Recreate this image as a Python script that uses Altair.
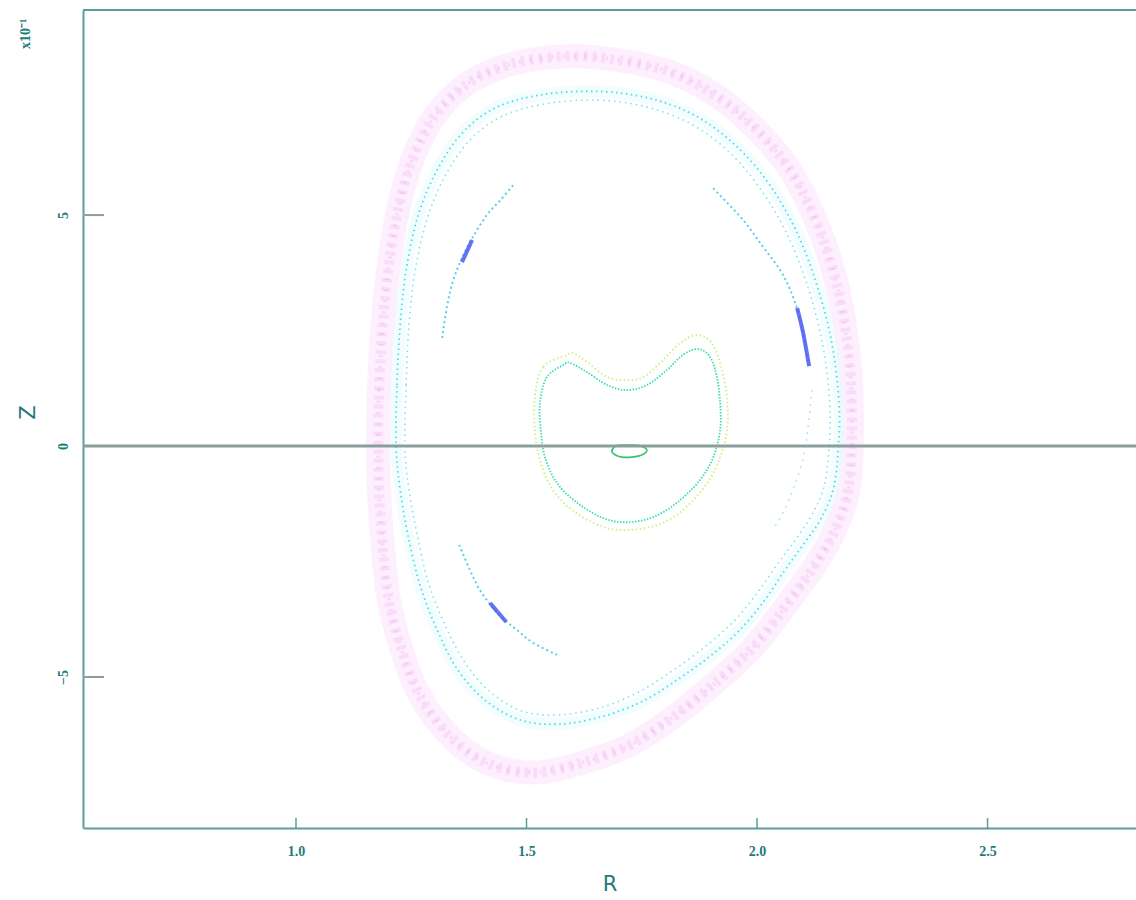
import altair as alt
import pandas as pd

# ---------------- data (R, Z in displayed units; Z is x10^-1) ----------------
R_TICKS = [1.0, 1.5, 2.0, 2.5]
Z_TICKS = [-5, 0, 5]

# outer fuzzy magenta band (closed)
MAG_R = [1.178, 1.180, 1.187, 1.200, 1.219, 1.252, 1.302, 1.377, 1.475, 1.594,
         1.703, 1.811, 1.909, 1.996, 2.072, 2.132, 2.176, 2.200, 2.206, 2.198,
         2.169, 2.126, 2.072, 1.996, 1.909, 1.818, 1.725, 1.627, 1.529, 1.443,
         1.373, 1.312, 1.262, 1.226, 1.200, 1.187, 1.180]
MAG_Z = [0.00, 1.21, 2.51, 3.81, 5.00, 6.19, 7.16, 7.88, 8.29, 8.44,
         8.35, 8.10, 7.60, 6.88, 5.97, 4.78, 3.38, 1.86, 0.35, -0.95,
         -1.82, -2.58, -3.33, -4.31, -5.13, -5.87, -6.47, -6.84, -7.06, -6.97,
         -6.62, -6.04, -5.28, -4.31, -3.23, -2.03, -0.95]

# cyan band, outer line (closed)
CYO_R = [1.217, 1.219, 1.226, 1.239, 1.265, 1.306, 1.360, 1.432, 1.529, 1.649,
         1.757, 1.855, 1.941, 2.017, 2.082, 2.130, 2.163, 2.178, 2.176, 2.165,
         2.137, 2.100, 2.061, 2.017, 1.963, 1.902, 1.833, 1.757, 1.670, 1.573,
         1.486, 1.410, 1.351, 1.306, 1.269, 1.243, 1.226]
CYO_Z = [0.00, 1.32, 2.62, 3.81, 5.00, 5.97, 6.77, 7.32, 7.60, 7.68,
         7.55, 7.21, 6.62, 5.80, 4.72, 3.48, 2.19, 0.89, -0.09, -0.95,
         -1.60, -2.14, -2.68, -3.33, -3.98, -4.52, -5.02, -5.50, -5.84, -6.02,
         -5.93, -5.50, -4.85, -3.98, -3.01, -1.93, -0.95]

# cyan band, inner line (closed)
CYI_R = [1.236, 1.239, 1.245, 1.258, 1.284, 1.323, 1.375, 1.443, 1.536, 1.649,
         1.753, 1.846, 1.928, 2.000, 2.063, 2.111, 2.143, 2.158, 2.156, 2.145,
         2.119, 2.085, 2.046, 2.002, 1.950, 1.889, 1.822, 1.748, 1.666, 1.573,
         1.490, 1.421, 1.367, 1.323, 1.286, 1.262, 1.245]
CYI_Z = [0.00, 1.32, 2.62, 3.77, 4.91, 5.84, 6.60, 7.12, 7.40, 7.49,
         7.36, 7.03, 6.47, 5.67, 4.63, 3.42, 2.16, 0.89, -0.09, -0.89,
         -1.49, -2.01, -2.53, -3.16, -3.79, -4.33, -4.83, -5.30, -5.65, -5.82,
         -5.74, -5.32, -4.70, -3.87, -2.92, -1.88, -0.95]

# island chain arcs (open)
ARC1_R = [1.317, 1.328, 1.341, 1.360, 1.382, 1.414, 1.443, 1.473]
ARC1_Z = [2.34, 3.05, 3.59, 4.07, 4.50, 5.00, 5.32, 5.67]
ARC2_R = [1.905, 1.970, 2.013, 2.050, 2.072, 2.089, 2.100, 2.111]
ARC2_Z = [5.58, 4.89, 4.31, 3.81, 3.38, 2.90, 2.45, 1.75]
ARC3_R = [1.354, 1.377, 1.399, 1.425, 1.447, 1.479, 1.514, 1.566]
ARC3_Z = [-2.14, -2.68, -3.12, -3.48, -3.72, -3.98, -4.26, -4.52]
ARC4_R = [2.119, 2.111, 2.102, 2.082, 2.059, 2.037]
ARC4_Z = [1.21, 0.45, -0.19, -0.84, -1.39, -1.77]

# dense (dark blue) parts of the islands
DARK1_R = [1.360, 1.371, 1.382]
DARK1_Z = [3.98, 4.22, 4.46]
DARK2_R = [2.087, 2.100, 2.113]
DARK2_Z = [2.99, 2.45, 1.73]
DARK3_R = [1.421, 1.438, 1.456]
DARK3_Z = [-3.40, -3.60, -3.81]

# kidney-shaped surfaces (closed)
KIN_R = [1.579, 1.544, 1.529, 1.531, 1.540, 1.566, 1.610, 1.666, 1.718, 1.774,
         1.826, 1.876, 1.905, 1.920, 1.920, 1.913, 1.898, 1.872, 1.839, 1.805,
         1.761, 1.718, 1.675, 1.631, 1.594]
KIN_Z = [1.75, 1.49, 0.93, 0.35, -0.24, -0.80, -1.23, -1.56, -1.65, -1.54,
         -1.23, -0.74, -0.24, 0.35, 0.93, 1.49, 1.93, 2.10, 1.97, 1.65,
         1.32, 1.21, 1.32, 1.60, 1.80]
KOUT_R = [1.588, 1.536, 1.518, 1.518, 1.529, 1.557, 1.605, 1.666, 1.718, 1.783,
          1.839, 1.892, 1.920, 1.935, 1.935, 1.924, 1.902, 1.870, 1.833, 1.796,
          1.753, 1.718, 1.675, 1.631, 1.601]
KOUT_Z = [1.97, 1.71, 1.06, 0.35, -0.30, -0.95, -1.43, -1.75, -1.82, -1.71,
          -1.39, -0.80, -0.24, 0.35, 1.00, 1.65, 2.23, 2.40, 2.23, 1.86,
          1.49, 1.43, 1.49, 1.82, 2.01]

# small central ellipse (closed)
ELL_R = [1.685, 1.694, 1.711, 1.729, 1.748, 1.761, 1.751, 1.729, 1.707, 1.692]
ELL_Z = [-0.11, 0.00, 0.02, 0.02, 0.00, -0.09, -0.19, -0.24, -0.24, -0.19]

# ---------------- styling ----------------
AXIS_C = "#5a9e9e"
TEXT_C = "#1e7b7b"
ZERO_C = "#8a9e9e"
W, H = 1053, 818

xscale = alt.Scale(domain=[0.538, 2.822], nice=False, zero=False)
yscale = alt.Scale(domain=[-8.27, 9.44], nice=False, zero=False)

xaxis = alt.Axis(values=R_TICKS, format=".1f", ticks=False, grid=False,
                 domainColor=AXIS_C, domainWidth=2,
                 labelFont="Liberation Serif", labelFontSize=14, labelFontWeight="bold",
                 labelColor=TEXT_C, labelPadding=16, labelFlush=False, labelOverlap=False,
                 title="R", titleFont="DejaVu Sans", titleFontSize=21,
                 titleFontWeight="normal", titleColor=TEXT_C,
                 titleY=56, titleBaseline="middle")
yaxis = alt.Axis(values=Z_TICKS, format="d", ticks=False, grid=False,
                 domainColor=AXIS_C, domainWidth=2,
                 labelFont="Liberation Serif", labelFontSize=14, labelFontWeight="bold",
                 labelColor=TEXT_C, labelAngle=270, labelAlign="center",
                 labelBaseline="middle", labelPadding=20, labelFlush=False,
                 labelOverlap=False,
                 title="Z", titleFont="DejaVu Sans", titleFontSize=21,
                 titleFontWeight="normal", titleColor=TEXT_C, titleAngle=270,
                 titleX=-55, titleY=402, titleAlign="center", titleBaseline="middle")


def X(field="R:Q"):
    return alt.X(field, scale=xscale, axis=xaxis)


def Y(field="Z:Q"):
    return alt.Y(field, scale=yscale, axis=yaxis)


def frame(rs, zs):
    return pd.DataFrame({"R": rs, "Z": zs, "i": list(range(len(rs)))})


def curve(rs, zs, color, width, opacity, dash=None, closed=True):
    kw = dict(color=color, strokeWidth=width, opacity=opacity,
              interpolate="cardinal-closed" if closed else "cardinal")
    if dash:
        kw["strokeDash"] = dash
    return alt.Chart(frame(rs, zs)).mark_line(**kw).encode(
        x=X(), y=Y(), order=alt.Order("i:Q"))


layers = [
    # magenta fuzzy band
    curve(MAG_R, MAG_Z, "#fbe2fb", 24, 0.55),
    curve(MAG_R, MAG_Z, "#f3b8f3", 10, 0.35, dash=[4, 5]),
    curve(MAG_R, MAG_Z, "#e98ae9", 4, 0.25, dash=[2, 9]),
    # cyan band
    curve(CYO_R, CYO_Z, "#e9fbfd", 12, 0.5),
    curve(CYO_R, CYO_Z, "#10d8e6", 1.8, 0.8, dash=[1.5, 3.5]),
    curve(CYI_R, CYI_Z, "#10d8e6", 1.6, 0.6, dash=[1.5, 4]),
    # island chain
    curve(ARC1_R, ARC1_Z, "#38c4f0", 2, 0.85, dash=[2, 3], closed=False),
    curve(ARC2_R, ARC2_Z, "#38c4f0", 2, 0.85, dash=[2, 3], closed=False),
    curve(ARC3_R, ARC3_Z, "#38c4f0", 2, 0.85, dash=[2, 3], closed=False),
    curve(ARC4_R, ARC4_Z, "#7ad8f4", 1.6, 0.6, dash=[2, 5], closed=False),
    curve(DARK1_R, DARK1_Z, "#4a5cf0", 4, 0.85, closed=False),
    curve(DARK2_R, DARK2_Z, "#4a5cf0", 4, 0.85, closed=False),
    curve(DARK3_R, DARK3_Z, "#4a5cf0", 4, 0.85, closed=False),
    # kidney surfaces
    curve(KOUT_R, KOUT_Z, "#c6f07a", 2, 0.9, dash=[1.5, 2.5]),
    curve(KIN_R, KIN_Z, "#2edca6", 1.8, 0.95, dash=[1.5, 1.5]),
    curve(ELL_R, ELL_Z, "#3cc070", 1.6, 1.0),
]

# frame / reference lines
zero_line = alt.Chart(pd.DataFrame({"Z": [0]})).mark_rule(
    color=ZERO_C, strokeWidth=3).encode(y=Y())
top_line = alt.Chart(pd.DataFrame({"a": [0]})).mark_rule(
    color=AXIS_C, strokeWidth=2).encode(y=alt.value(0), x=alt.value(0), x2=alt.value(W))
xticks = alt.Chart(pd.DataFrame({"R": R_TICKS})).mark_rule(
    color=AXIS_C, strokeWidth=1.5).encode(x=X(), y=alt.value(H), y2=alt.value(H - 10))
yticks = alt.Chart(pd.DataFrame({"Z": Z_TICKS})).mark_rule(
    color=ZERO_C, strokeWidth=2).encode(y=Y(), x=alt.value(0), x2=alt.value(21))
mult = alt.Chart(pd.DataFrame({"t": ["x10\u207b\u00b9"]})).mark_text(
    font="Liberation Serif", fontSize=14, fontWeight="bold", color=TEXT_C,
    angle=270, align="center", baseline="middle").encode(
    text="t:N", x=alt.value(-57), y=alt.value(24))

chart = alt.layer(*layers, zero_line, top_line, xticks, yticks, mult).properties(
    width=W, height=H,
    autosize=alt.AutoSizeParams(type="none"),
    padding={"left": 83, "top": 10, "right": 0, "bottom": 72},
    background="white",
).configure_view(stroke=None)

chart.save("out.html", embed_options={"renderer": "svg", "actions": False})
